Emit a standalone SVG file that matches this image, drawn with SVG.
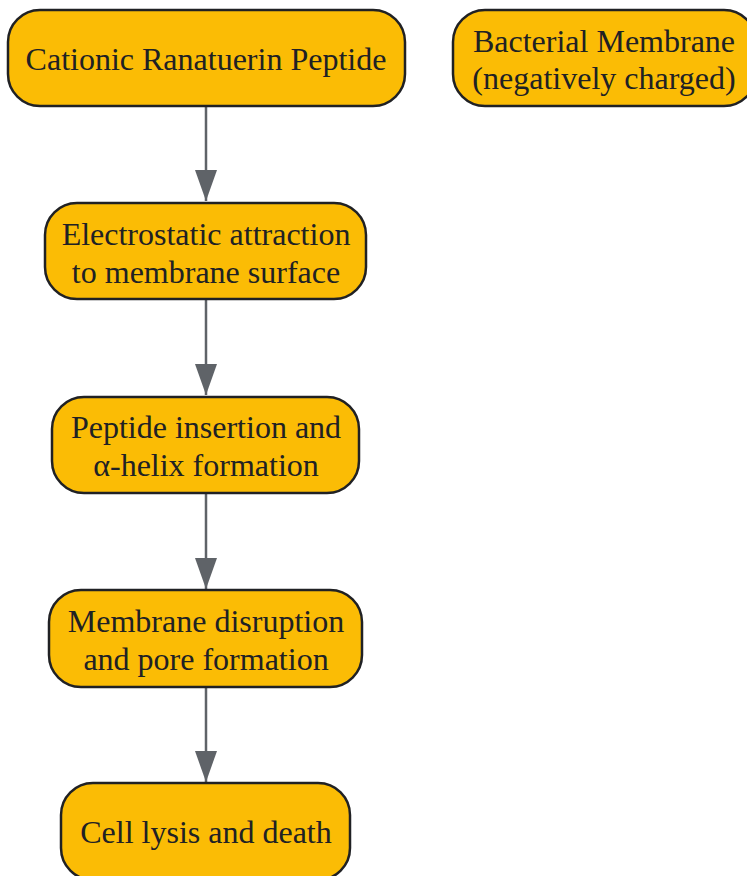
<svg xmlns="http://www.w3.org/2000/svg" width="747" height="876" viewBox="0 0 747 876">
<style>
.n{fill:#FBBC05;stroke:#202124;stroke-width:2.5}
.t{font-family:"Liberation Serif","Times New Roman",serif;font-size:32px;fill:#202124;text-anchor:middle;dominant-baseline:central}
.e{stroke:#5F6368;stroke-width:2.5;fill:none;marker-end:url(#ah)}
</style>
<defs>
<marker id="ah" markerUnits="userSpaceOnUse" markerWidth="34" markerHeight="24" refX="31" refY="11" orient="auto">
<path d="M0,0 L31,11 L0,22 Z" fill="#5F6368"/>
</marker>
</defs>
<rect width="747" height="876" fill="#FFFFFF"/>
<g id="connectors">
<line class="e" x1="206" y1="106" x2="206" y2="201"/>
<line class="e" x1="206" y1="299" x2="206" y2="395"/>
<line class="e" x1="206" y1="493" x2="206" y2="589"/>
<line class="e" x1="206" y1="687" x2="206" y2="782"/>
</g>
<g id="peptide">
<rect class="n" x="8" y="10" width="397" height="96" rx="32"/>
<text class="t" x="206" y="59">Cationic Ranatuerin Peptide</text>
</g>
<g id="membrane">
<rect class="n" x="453" y="10" width="303" height="96" rx="32"/>
<text class="t" x="604" y="41">Bacterial Membrane</text>
<text class="t" x="604" y="78">(negatively charged)</text>
</g>
<g id="attraction">
<rect class="n" x="45" y="203" width="321" height="96" rx="32"/>
<text class="t" x="206" y="234">Electrostatic attraction</text>
<text class="t" x="206" y="272">to membrane surface</text>
</g>
<g id="insertion">
<rect class="n" x="52" y="397" width="307" height="96" rx="32"/>
<text class="t" x="206" y="427">Peptide insertion and</text>
<text class="t" x="206" y="465">α-helix formation</text>
</g>
<g id="disruption">
<rect class="n" x="49" y="590" width="313" height="97" rx="32"/>
<text class="t" x="206" y="621">Membrane disruption</text>
<text class="t" x="206" y="659">and pore formation</text>
</g>
<g id="lysis">
<rect class="n" x="61" y="783" width="289" height="97" rx="32"/>
<text class="t" x="206" y="832">Cell lysis and death</text>
</g>
</svg>
